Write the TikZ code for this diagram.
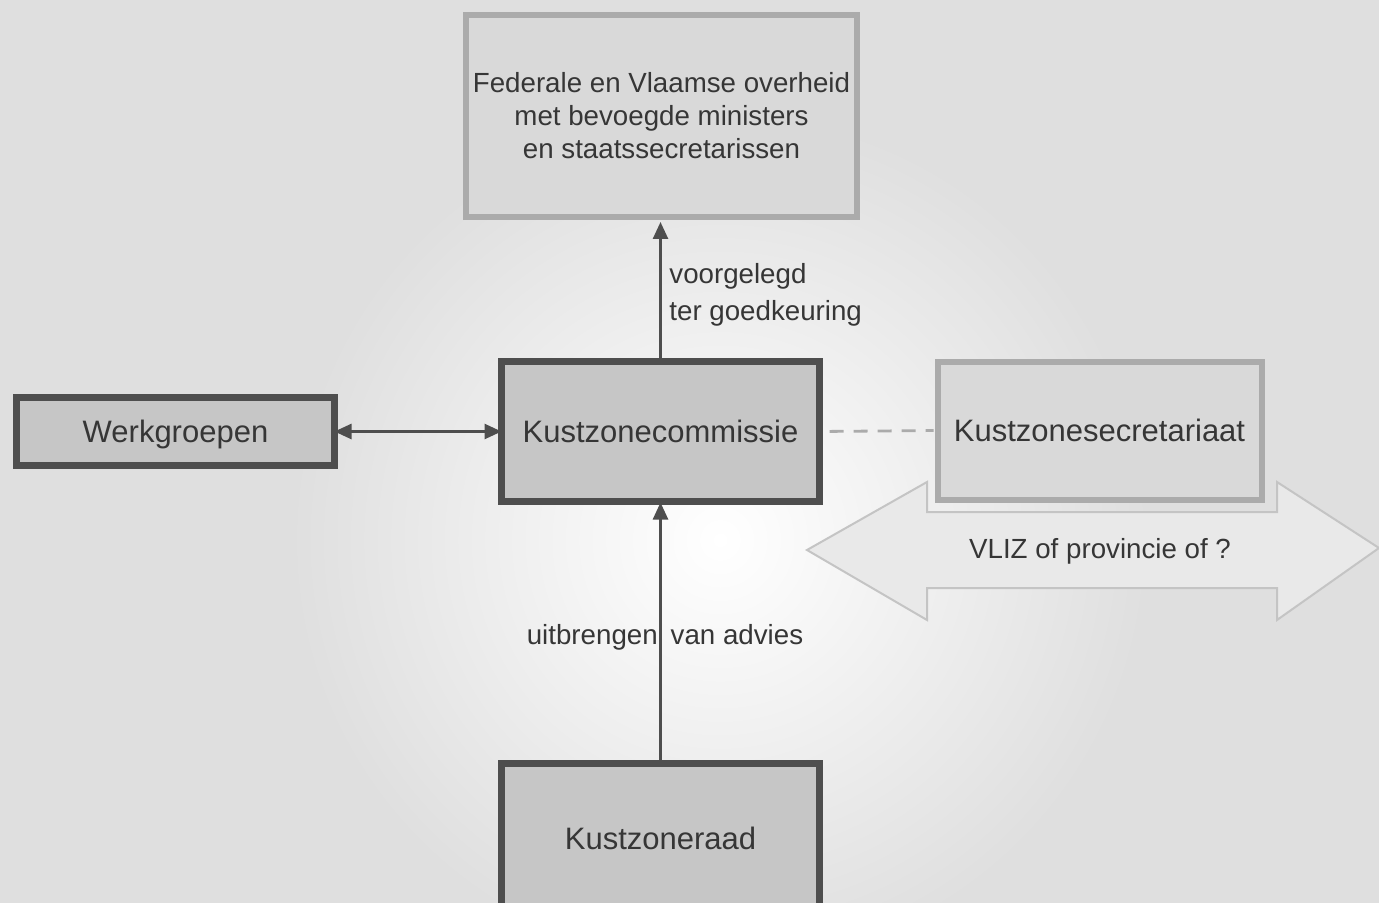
\documentclass[tikz,border=0pt]{standalone}
\usepackage{fontspec}
\setmainfont{Liberation Sans}
\usetikzlibrary{arrows.meta,calc}
\definecolor{bgc}{HTML}{DFDFDF}
\definecolor{darkline}{HTML}{4E4E4E}
\definecolor{darkfill}{HTML}{C6C6C6}
\definecolor{lightline}{HTML}{ABABAB}
\definecolor{lightfill}{HTML}{D9D9D9}
\definecolor{arrfill}{HTML}{E9E9E9}
\definecolor{arrline}{HTML}{C4C4C4}
\definecolor{txt}{HTML}{363636}
\begin{document}
\begin{tikzpicture}[x=0.5pt,y=-0.5pt,
  darkbox/.style={draw=darkline, fill=darkfill, line width=3.3pt, inner sep=0pt, outer sep=0pt, text=txt, font=\fontsize{15.5}{18}\selectfont},
  lightbox/.style={draw=lightline, fill=lightfill, line width=3pt, inner sep=0pt, outer sep=0pt, text=txt, font=\fontsize{15.5}{18}\selectfont},
  smalltext/.style={text=txt, inner sep=0pt, font=\fontsize{13.85}{18.5}\selectfont},
  tip/.style={Triangle[width=7.5pt,length=8.5pt]},
  conn/.style={draw=darkline, line width=1.3pt, -{Triangle[width=7.5pt,length=8.5pt]}},
  dconn/.style={draw=darkline, line width=1.3pt, {Triangle[width=7.5pt,length=8.5pt]}-{Triangle[width=7.5pt,length=8.5pt]}},
  dashconn/.style={draw=lightline, line width=1.4pt, dash pattern=on 7pt off 5pt}
]
\useasboundingbox (0,0) rectangle (1379,903);
\clip (0,0) rectangle (1379,903);
\fill[bgc] (0,0) rectangle (1379,903);
\shade[inner color=white, outer color=bgc] (720,540) circle (430);

% boxes
\node[lightbox, minimum width=195.5pt, minimum height=101pt, align=center,
      font=\fontsize{13.85}{16.5}\selectfont] (fed) at (661.5,116)
  {Federale en Vlaamse overheid\\met bevoegde ministers\\en staatssecretarissen};
\node[darkbox, minimum width=159pt, minimum height=34pt, text depth=0pt] (werk) at (175.5,431.5) {Werkgroepen};
\node[darkbox, minimum width=159pt, minimum height=70pt] (komm) at (660.5,431.5) {Kustzonecommissie};
\node[darkbox, minimum width=159pt, minimum height=74.5pt] (raad) at (660.5,838) {Kustzoneraad};

% big double arrow
\filldraw[fill=arrfill, draw=arrline, line width=1pt]
  (807,550) -- (927,482) -- (927,512) -- (1277,512) -- (1277,482) -- (1379,548)
  -- (1277,620) -- (1277,588) -- (927,588) -- (927,620) -- cycle;
\node[smalltext] (vliz) at (1100,551) {VLIZ of provincie of ?};

\node[lightbox, minimum width=162pt, minimum height=69pt] (secr) at (1099.5,430.5) {Kustzonesecretariaat};

% connectors
\draw[conn, shorten >=2.5pt] (komm.north) -- (komm.north |- fed.south);
\node[smalltext, anchor=west, align=left] (lblup) at (669,295) {voorgelegd\\ter goedkeuring};

\draw[conn, shorten >=0.5pt] (raad.north) -- (komm.south);
\node[smalltext] (lbladv) at (665,637) {uitbrengen\hspace{6.5pt}van advies};

\draw[dconn] (werk.east) -- (werk.east -| komm.west);
\draw[dashconn, shorten <=5pt, shorten >=2pt] (komm.east) -- (secr.west);
\end{tikzpicture}
\end{document}
